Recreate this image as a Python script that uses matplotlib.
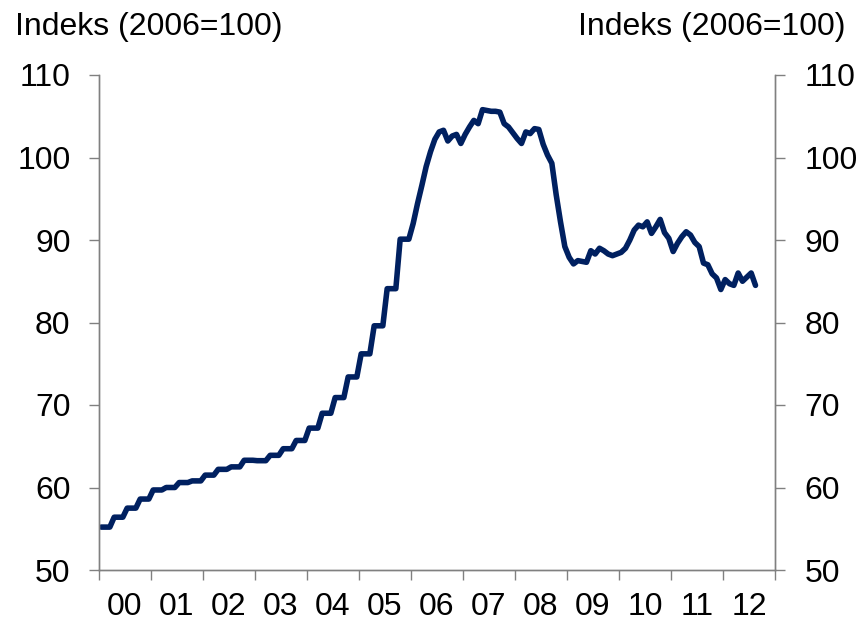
import numpy as np
import matplotlib
matplotlib.use("Agg")
import matplotlib.pyplot as plt

plt.rcParams["font.family"] = ["Liberation Sans", "DejaVu Sans"]

# Årstall på x-aksen (etikett midt i året)
aar = ["00", "01", "02", "03", "04", "05", "06", "07", "08", "09", "10", "11", "12"]

# Kvartalsverdier 2000K1-2005K4 (vises som trapp, samme verdi i tre måneder)
kvartal_2000_2005 = [
    55.2, 56.4, 57.5, 58.6,
    59.7, 60.0, 60.6, 60.8,
    61.5, 62.2, 62.5, 63.3,
    63.25, 63.9, 64.7, 65.7,
    67.2, 69.0, 70.9, 73.4,
    76.2, 79.6, 84.1, 90.1,
]

# Månedsverdier jan 2006 - aug 2012
maaned_2006_2012 = [
    92.0, 94.4, 96.6, 98.9, 100.7, 102.2, 103.1, 103.3, 102.0, 102.6, 102.8, 101.7,
    102.8, 103.7, 104.5, 104.1, 105.8, 105.7, 105.6, 105.6, 105.5, 104.1, 103.7, 103.0,
    102.3, 101.7, 103.1, 102.9, 103.5, 103.4, 101.6, 100.3, 99.3, 95.5, 92.2, 89.2,
    87.9, 87.1, 87.5, 87.4, 87.3, 88.7, 88.3, 89.0, 88.7, 88.3, 88.1, 88.3,
    88.5, 89.0, 90.0, 91.2, 91.8, 91.6, 92.2, 90.8, 91.6, 92.5, 90.9, 90.2,
    88.6, 89.6, 90.4, 91.0, 90.6, 89.7, 89.2, 87.2, 87.0, 85.9, 85.4, 84.0,
    85.2, 84.7, 84.5, 86.0, 85.0, 85.5, 86.0, 84.5,
]

verdier = np.concatenate([np.repeat(kvartal_2000_2005, 3), maaned_2006_2012])
mnd = np.arange(len(verdier)) + 0.5    # midt i måneden, 0 = start 2000

LINJE = "#002060"
GRAA = "#808080"
FS = 23

fig = plt.figure(figsize=(8.58, 6.22), dpi=100)
ax = fig.add_axes([99 / 858, 1 - 570 / 622, (775 - 99) / 858, (570 - 75) / 622])
ax.plot(mnd, verdier, color=LINJE, lw=4, solid_joinstyle="round", solid_capstyle="round")

ax.set_xlim(0, 12 * len(aar))
ax.set_ylim(50, 110)
ax.set_yticks(range(50, 111, 10))

ax.set_xticks(np.arange(0, 12 * len(aar) + 1, 12))
ax.set_xticklabels([])
ax.set_xticks(np.arange(6, 12 * len(aar), 12), minor=True)
ax.set_xticklabels(aar, minor=True)
ax.tick_params(axis="x", which="major", direction="out", length=7, width=1, color=GRAA)
ax.tick_params(axis="x", which="minor", length=0, pad=15.5, labelsize=FS)
ax.tick_params(axis="y", direction="out", length=7.5, width=1, color=GRAA, pad=13, labelsize=FS)

ax2 = ax.twinx()
ax2.set_ylim(50, 110)
ax2.set_yticks(range(50, 111, 10))
ax2.tick_params(axis="y", direction="out", length=7.5, width=1, color=GRAA, pad=14, labelsize=FS)

for a in (ax, ax2):
    a.spines["top"].set_visible(False)
    for s in ("left", "right", "bottom"):
        a.spines[s].set_color(GRAA)
        a.spines[s].set_linewidth(1)

fig.text(0.017, 0.98, "Indeks (2006=100)", ha="left", va="top", fontsize=FS)
fig.text(0.985, 0.98, "Indeks (2006=100)", ha="right", va="top", fontsize=FS)

fig.savefig("out.png", dpi=100)
